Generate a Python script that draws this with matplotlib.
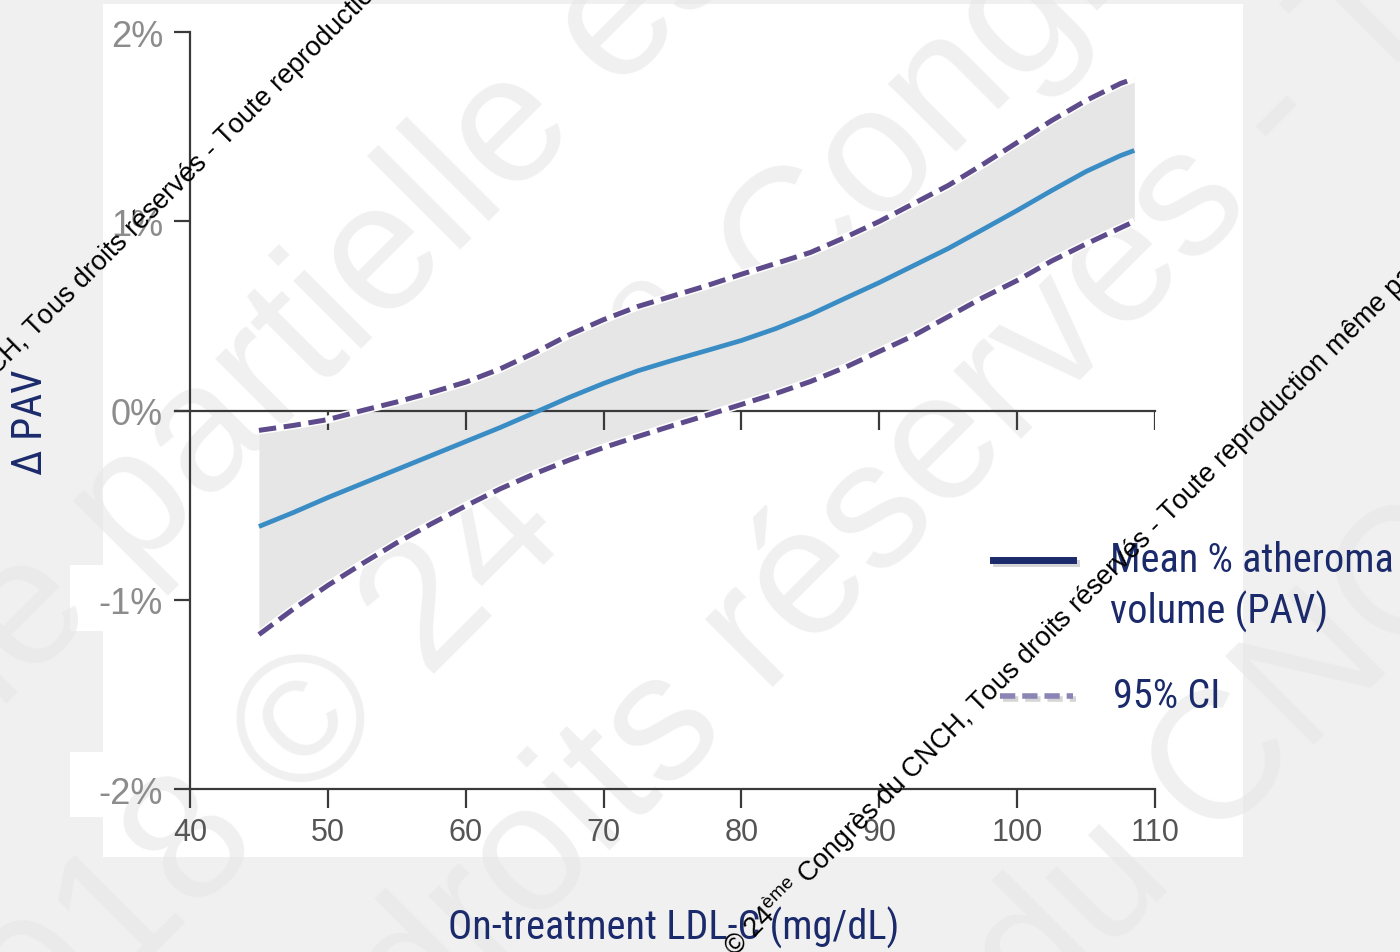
import numpy as np
import matplotlib
matplotlib.use("Agg")
import matplotlib.pyplot as plt
from matplotlib import font_manager as fm
from matplotlib.font_manager import FontProperties
from matplotlib.lines import Line2D
from matplotlib.patches import Rectangle
import matplotlib.patheffects as pe

# ---------------- data ----------------
ldl = [45, 47.5, 50, 52.5, 55, 57.5, 60, 62.5, 65, 67.5, 70, 72.5, 75, 77.5,
       80, 82.5, 85, 87.5, 90, 92.5, 95, 97.5, 100, 102.5, 105, 107.5, 108.5]
mean_pav = [-0.613, -0.539, -0.460, -0.386, -0.312, -0.238, -0.164, -0.090,
            -0.011, 0.069, 0.143, 0.210, 0.265, 0.317, 0.370, 0.433, 0.507,
            0.592, 0.676, 0.766, 0.856, 0.956, 1.057, 1.162, 1.263, 1.347, 1.374]
ci_upper = [-0.105, -0.079, -0.048, 0.000, 0.045, 0.095, 0.150, 0.220, 0.305,
            0.400, 0.480, 0.550, 0.605, 0.660, 0.720, 0.777, 0.835, 0.914,
            0.999, 1.094, 1.189, 1.300, 1.416, 1.532, 1.638, 1.728, 1.754]
ci_lower = [-1.184, -1.049, -0.924, -0.809, -0.699, -0.599, -0.504, -0.414,
            -0.334, -0.262, -0.196, -0.137, -0.080, -0.025, 0.032, 0.090, 0.153,
            0.227, 0.312, 0.396, 0.496, 0.596, 0.687, 0.790, 0.880, 0.965, 0.999]
x_ticks = [40, 50, 60, 70, 80, 90, 100, 110]
y_ticks = [-2, -1, 0, 1, 2]
y_ticklabels = ["-2%", "-1%", "0%", "1%", "2%"]
x_label = "On-treatment LDL-C (mg/dL)"
y_label = "Δ PAV"
legend_labels = ["Mean % atheroma\nvolume (PAV)", "95% CI"]
watermark_small = ("© 24$^{\\rm ème}$ Congrès du CNCH, Tous droits réservés - "
                   "Toute reproduction même partielle est interdite")

# ---------------- fonts ----------------
W, H = 1400, 953
names = {f.name for f in fm.fontManager.ttflist}
SANS = "Liberation Sans" if "Liberation Sans" in names else "DejaVu Sans"
plt.rcParams["font.family"] = [SANS, "DejaVu Sans"]
plt.rcParams["mathtext.fontset"] = "custom"
plt.rcParams["mathtext.rm"] = SANS
plt.rcParams["lines.scale_dashes"] = False

# look for a condensed / narrow sans face
narrow_file = None
narrow_scale = 0.84          # size factor if no condensed face exists
pref = ["Liberation Sans Narrow", "Arial Narrow", "Roboto Condensed",
        "Noto Sans", "Open Sans", "DejaVu Sans", "Roboto", "Lato", "Inter"]
cands = []
for f in fm.fontManager.ttflist:
    st = str(f.stretch)
    is_narrow = ("Narrow" in f.name or "Condensed" in f.name or
                 st in ("condensed", "semi-condensed", "extra-condensed"))
    if is_narrow and f.style == "normal" and str(f.weight) in ("400", "normal", "regular", "book"):
        rank = next((i for i, p in enumerate(pref) if f.name.startswith(p)), 99)
        cands.append((rank, f.fname))
if cands:
    cands.sort()
    narrow_file = cands[0][1]
    narrow_scale = 1.0


def nfont(size):
    if narrow_file:
        return FontProperties(fname=narrow_file, size=size)
    return FontProperties(family=SANS, size=size * narrow_scale)


NAVY = "#1b2a6b"
AXC = "#3a3a3a"


def px(x, y):
    return (x / W, 1 - y / H)


fig = plt.figure(figsize=(W / 100, H / 100), dpi=100, facecolor="#f0f0f0")

# white panel
fig.add_artist(Rectangle(px(103, 858), (1243 - 103) / W, (858 - 5) / H,
                         transform=fig.transFigure, facecolor="white",
                         edgecolor="none", zorder=-10))
for (x0, y0, x1, y1) in [(70, 566, 103, 632), (70, 753, 103, 818)]:
    fig.add_artist(Rectangle(px(x0, y1), (x1 - x0) / W, (y1 - y0) / H,
                             transform=fig.transFigure, facecolor="white",
                             edgecolor="none", zorder=-10))

ax = fig.add_axes([190 / W, 1 - 790 / H, 965 / W, 757 / H])
ax.patch.set_visible(False)
ax.set_xlim(40, 110)
ax.set_ylim(-2, 2)
for s in ["top", "right"]:
    ax.spines[s].set_visible(False)
for s in ["left", "bottom"]:
    ax.spines[s].set_color(AXC)
    ax.spines[s].set_linewidth(1.6)

ax.set_xticks(x_ticks)
ax.set_xticklabels([str(t) for t in x_ticks])
ax.set_yticks(y_ticks)
ax.set_yticklabels(y_ticklabels)
ax.tick_params(axis="x", length=13.5, width=1.6, color=AXC, pad=7,
               labelsize=22, labelcolor="#555555")
ax.tick_params(axis="y", length=11.5, width=1.6, color=AXC, pad=8,
               labelsize=26, labelcolor="#8c8c8c")

# zero reference line with its own ticks
ax.axhline(0, xmin=-15 / 965, xmax=1, color=AXC, lw=1.6, clip_on=False, zorder=1.5)
ax.vlines(x_ticks[1:], 0, -0.105, colors=AXC, lw=1.6, zorder=1.5)

# confidence band
ax.fill_between(ldl, ci_lower, ci_upper, color="#e6e6e6", lw=0, zorder=1)

# faint big watermark (over band, under lines)
big = dict(rotation=45, rotation_mode="anchor", ha="left", va="baseline",
           fontsize=130, color="#e6e6e6", alpha=0.6, transform=fig.transFigure,
           clip_on=False, zorder=1.2)
for txt, (bx, by) in [("même partielle est interdite", (-257, 967)),
                      ("2018 © 24$^{\\rm ème}$ Congrès du CNCH", (-20, 1130)),
                      ("Tous droits réservés - Toute reproduction", (112, 1348)),
                      ("du CNCH", (1035, 1025))]:
    ax.text(*px(bx, by), txt, **big)

for ci in (ci_upper, ci_lower):
    ax.plot(ldl, ci, color="white", lw=5.8, solid_capstyle="butt", zorder=2.1)
    ax.plot(ldl, ci, color="#5e4b8b", lw=3.6, dashes=(12.5, 5.5),
            dash_capstyle="butt", zorder=2.2)
ax.plot(ldl, mean_pav, color="#3a8cc4", lw=3.4, solid_capstyle="butt", zorder=2.3)

# axis titles
fig.text(*px(674, 928), x_label, ha="center", va="center",
         fontproperties=nfont(29), color=NAVY)
fig.text(*px(31, 422), y_label, ha="center", va="center", rotation=90,
         fontproperties=nfont(30), color=NAVY)

# legend (drawn manually to match layout)
shadow = [pe.SimpleLineShadow(offset=(2, -2), shadow_color="#888888", alpha=0.35),
          pe.Normal()]
fig.add_artist(Line2D([993 / W, 1073 / W], [1 - 561 / H] * 2, color=NAVY, lw=5,
                      transform=fig.transFigure, path_effects=shadow))
fig.add_artist(Line2D([1000 / W, 1073 / W], [1 - 697 / H] * 2, color="#8a85b5",
                      lw=4.0, dashes=(11, 5), transform=fig.transFigure,
                      path_effects=shadow))
l1, l2 = legend_labels[0].split("\n")
fig.text(*px(1110, 561), l1, va="center", ha="left", fontproperties=nfont(29),
         color=NAVY)
fig.text(*px(1110, 612), l2, va="center", ha="left", fontproperties=nfont(29),
         color=NAVY)
fig.text(*px(1113, 697), legend_labels[1], va="center", ha="left",
         fontproperties=nfont(29), color=NAVY)

# small black watermark lines
for (bx, by) in [(735, 958), (-209, 582)]:
    fig.text(*px(bx, by), watermark_small, rotation=45, rotation_mode="anchor",
             ha="left", va="baseline", fontsize=19.5, color="black", zorder=10)

fig.savefig("out.png", dpi=100, facecolor=fig.get_facecolor())
